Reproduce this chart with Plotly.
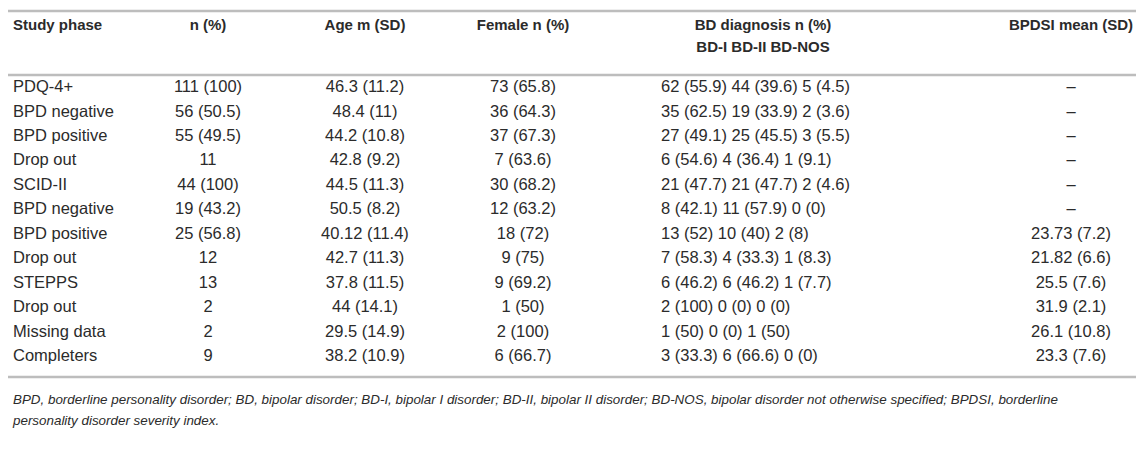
import plotly.graph_objects as go

# table contents
phases = ['PDQ-4+', 'BPD negative', 'BPD positive', 'Drop out', 'SCID-II', 'BPD negative',
          'BPD positive', 'Drop out', 'STEPPS', 'Drop out', 'Missing data', 'Completers']
n_pct = ['111 (100)', '56 (50.5)', '55 (49.5)', '11', '44 (100)', '19 (43.2)',
         '25 (56.8)', '12', '13', '2', '2', '9']
age = ['46.3 (11.2)', '48.4 (11)', '44.2 (10.8)', '42.8 (9.2)', '44.5 (11.3)', '50.5 (8.2)',
       '40.12 (11.4)', '42.7 (11.3)', '37.8 (11.5)', '44 (14.1)', '29.5 (14.9)', '38.2 (10.9)']
female = ['73 (65.8)', '36 (64.3)', '37 (67.3)', '7 (63.6)', '30 (68.2)', '12 (63.2)',
          '18 (72)', '9 (75)', '9 (69.2)', '1 (50)', '2 (100)', '6 (66.7)']
bd_diag = ['62 (55.9) 44 (39.6) 5 (4.5)', '35 (62.5) 19 (33.9) 2 (3.6)', '27 (49.1) 25 (45.5) 3 (5.5)',
           '6 (54.6) 4 (36.4) 1 (9.1)', '21 (47.7) 21 (47.7) 2 (4.6)', '8 (42.1) 11 (57.9) 0 (0)',
           '13 (52) 10 (40) 2 (8)', '7 (58.3) 4 (33.3) 1 (8.3)', '6 (46.2) 6 (46.2) 1 (7.7)',
           '2 (100) 0 (0) 0 (0)', '1 (50) 0 (0) 1 (50)', '3 (33.3) 6 (66.6) 0 (0)']
bpdsi = ['–', '–', '–', '–', '–', '–',
         '23.73 (7.2)', '21.82 (6.6)', '25.5 (7.6)', '31.9 (2.1)', '26.1 (10.8)', '23.3 (7.6)']

headers = ['Study phase', 'n (%)', 'Age m (SD)', 'Female n (%)', 'BD diagnosis n (%)', 'BPDSI mean (SD)']
bd_sub = 'BD-I BD-II BD-NOS'
footnote = ['BPD, borderline personality disorder; BD, bipolar disorder; BD-I, bipolar I disorder; '
            'BD-II, bipolar II disorder; BD-NOS, bipolar disorder not otherwise specified; BPDSI, borderline',
            'personality disorder severity index.']

W, H = 1144, 449
row_y = [80 + 24.45 * i for i in range(len(phases))]
font = 'Liberation Sans, Arial, sans-serif'
txt_color = '#2b2b2b'
rule_color = '#bdbdbd'

# column x and alignment
cols = [
    (phases, 5, 'middle right'),
    (n_pct, 200, 'middle center'),
    (age, 357, 'middle center'),
    (female, 515, 'middle center'),
    (bd_diag, 653, 'middle right'),
    (bpdsi, 1063, 'middle center'),
]
head_x = [5, 200, 357, 515, 755, 1063]
head_pos = ['middle right', 'middle center', 'middle center', 'middle center', 'middle center', 'middle center']

fig = go.Figure()

for values, x, pos in cols:
    fig.add_trace(go.Scatter(x=[x] * len(values), y=row_y, text=values, mode='text',
                             textposition=pos, textfont=dict(family=font, size=16.5, color=txt_color),
                             hoverinfo='skip', showlegend=False))

fig.add_trace(go.Scatter(x=head_x, y=[18] * len(headers), text=['<b>%s</b>' % h for h in headers],
                         mode='text', textposition=head_pos,
                         textfont=dict(family=font, size=15, color=txt_color),
                         hoverinfo='skip', showlegend=False))
fig.add_trace(go.Scatter(x=[755], y=[40], text=['<b>%s</b>' % bd_sub], mode='text',
                         textposition='middle center',
                         textfont=dict(family=font, size=15, color=txt_color),
                         hoverinfo='skip', showlegend=False))

fig.add_trace(go.Scatter(x=[5, 5], y=[393, 414], text=['<i>%s</i>' % f for f in footnote], mode='text',
                         textposition='middle right',
                         textfont=dict(family=font, size=13.4, color=txt_color),
                         hoverinfo='skip', showlegend=False))

for y in [3, 67, 369]:
    fig.add_shape(type='line', x0=0, x1=W, y0=y, y1=y, line=dict(color=rule_color, width=2.5))

fig.update_layout(
    width=W, height=H,
    margin=dict(l=0, r=0, t=0, b=0),
    paper_bgcolor='white', plot_bgcolor='white',
    xaxis=dict(range=[0, W], visible=False, fixedrange=True),
    yaxis=dict(range=[H, 0], visible=False, fixedrange=True),
)

fig.write_html("out.html")
